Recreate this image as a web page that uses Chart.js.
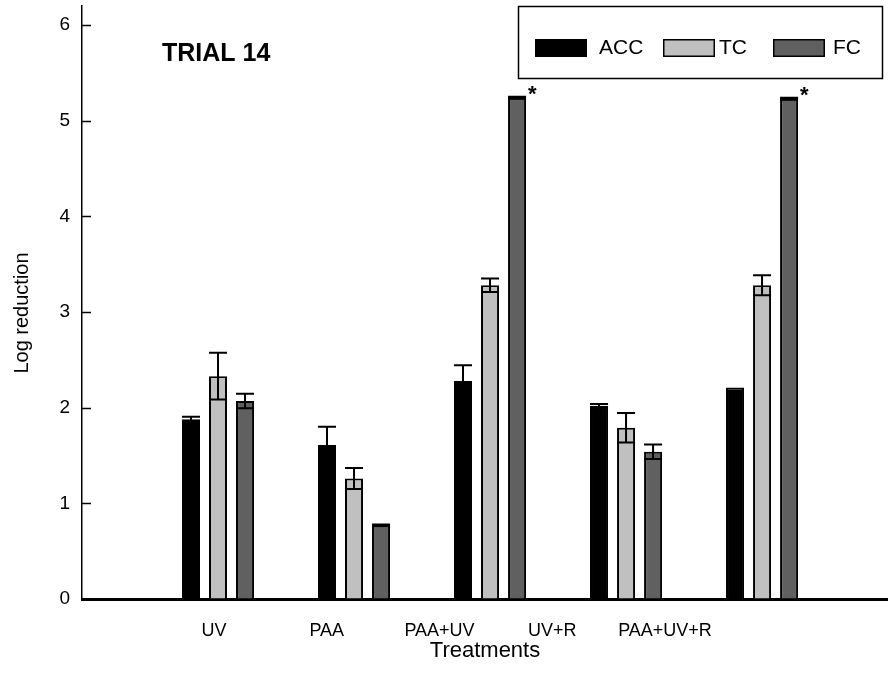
<!DOCTYPE html>
<html>
<head>
<meta charset="utf-8">
<title>Trial 14</title>
<script src="https://cdn.jsdelivr.net/npm/chart.js@4.4.1/dist/chart.umd.min.js"></script>
<style>
  html, body { margin: 0; padding: 0; background: #fff; }
</style>
</head>
<body>
<canvas id="my-chart" width="888" height="692"></canvas>
<script>
//Chart data
var treatments = ['UV', 'PAA', 'PAA+UV', 'UV+R', 'PAA+UV+R'];
var seriesNames = ['ACC', 'TC', 'FC'];

var accValues = [1.88, 1.61, 2.28, 2.02, 2.21];
var tcValues = [2.33, 1.26, 3.28, 1.79, 3.28];
var fcValues = [2.07, 0.77, 5.24, 1.54, 5.23];

//standard errors, drawn as whiskers
var accErrors = [0.025, 0.19, 0.165, 0.02, 0];
var tcErrors = [0.245, 0.11, 0.07, 0.155, 0.105];
var fcErrors = [0.075, 0.01, 0.01, 0.075, 0.01];

//FC bars flagged with an asterisk
var fcStars = [false, false, true, false, true];

var yTicks = [0, 1, 2, 3, 4, 5, 6];

var fillColors = ['#000000', '#c0c0c0', '#606060'];
var fontFamily = '"Liberation Sans", Arial, sans-serif';

//Turn a list of values into {x, y} points, one slot per treatment
function toPoints(values) {
  var points = [];
  for (var i = 0; i < values.length; i++) {
    points.push({ x: i + 1, y: values[i] });
  }
  return points;
}

//one tick per treatment slot
function slotTicks(scale) {
  scale.ticks = treatments.map(function (t, i) { return { value: i + 1 }; });
}

var allValues = [accValues, tcValues, fcValues];
var allErrors = [accErrors, tcErrors, fcErrors];

var datasets = [];
for (var i = 0; i < seriesNames.length; i++) {
  datasets.push({
    label: seriesNames[i],
    data: toPoints(allValues[i]),
    errors: allErrors[i],
    backgroundColor: fillColors[i],
    borderColor: '#000000',
    borderWidth: 2,
    categoryPercentage: 0.596,
    barPercentage: 0.667,
    xAxisID: 'x',
    yAxisID: 'y'
  });
}

//Whiskers on top of every bar
var errorBars = {
  id: 'errorBars',
  afterDatasetsDraw: function (chart) {
    var ctx = chart.ctx;
    var yScale = chart.scales.y;
    ctx.save();
    ctx.strokeStyle = '#000000';
    ctx.lineWidth = 2;
    chart.data.datasets.forEach(function (ds, d) {
      var meta = chart.getDatasetMeta(d);
      meta.data.forEach(function (bar, i) {
        var err = ds.errors[i];
        if (!err) {
          return;
        }
        var v = ds.data[i].y;
        var top = yScale.getPixelForValue(v + err);
        var low = yScale.getPixelForValue(v - err);
        var half = bar.width / 2;
        ctx.beginPath();
        ctx.moveTo(bar.x, top);
        ctx.lineTo(bar.x, low);
        ctx.moveTo(bar.x - half, top);
        ctx.lineTo(bar.x + half, top);
        ctx.moveTo(bar.x - half, low);
        ctx.lineTo(bar.x + half, low);
        ctx.stroke();
      });
    });

    //asterisks next to the FC bars
    var fcMeta = chart.getDatasetMeta(2);
    ctx.fillStyle = '#000000';
    ctx.font = 'bold 22px ' + fontFamily;
    ctx.textAlign = 'left';
    ctx.textBaseline = 'alphabetic';
    for (var i = 0; i < fcStars.length; i++) {
      if (fcStars[i]) {
        var bar = fcMeta.data[i];
        var topY = yScale.getPixelForValue(fcValues[i] + fcErrors[i]);
        ctx.fillText('*', bar.x + bar.width / 2 + 2, topY + 4);
      }
    }
    ctx.restore();
  }
};

//Inward y ticks, axis title, trial title and the boxed legend
var decorations = {
  id: 'decorations',
  afterDraw: function (chart) {
    var ctx = chart.ctx;
    var yScale = chart.scales.y;
    var left = chart.chartArea.left;
    ctx.save();

    ctx.strokeStyle = '#000000';
    ctx.lineWidth = 1.5;
    ctx.beginPath();
    yScale.ticks.forEach(function (t) {
      var y = Math.round(yScale.getPixelForValue(t.value)) + 0.5;
      ctx.moveTo(left, y);
      ctx.lineTo(left + 9, y);
    });
    ctx.stroke();

    //y axis title, sits a little below the middle of the axis
    ctx.fillStyle = '#000000';
    ctx.font = '20px ' + fontFamily;
    ctx.textAlign = 'center';
    ctx.textBaseline = 'middle';
    ctx.save();
    ctx.translate(22, 313);
    ctx.rotate(-Math.PI / 2);
    ctx.fillText('Log reduction', 0, 0);
    ctx.restore();

    ctx.font = 'bold 25px ' + fontFamily;
    ctx.textAlign = 'left';
    ctx.textBaseline = 'alphabetic';
    ctx.fillText('TRIAL 14', 162, 61);

    //legend frame
    ctx.lineWidth = 1.5;
    ctx.strokeRect(518.5, 6.5, 364, 72);

    var swatchX = [535, 663, 773];
    var textX = [599, 719, 833];
    ctx.font = '21px ' + fontFamily;
    ctx.textBaseline = 'middle';
    chart.data.datasets.forEach(function (ds, d) {
      ctx.fillStyle = ds.backgroundColor;
      ctx.fillRect(swatchX[d], 39, 52, 18);
      ctx.strokeRect(swatchX[d] + 0.75, 39.75, 50.5, 16.5);
      ctx.fillStyle = '#000000';
      ctx.fillText(ds.label, textX[d], 48);
    });
    ctx.restore();
  }
};

var myChart = new Chart(document.getElementById('my-chart').getContext('2d'), {
  type: 'bar',
  data: { datasets: datasets },
  options: {
    responsive: false,
    animation: false,
    events: [],
    layout: { autoPadding: false, padding: { top: 6, right: 0, left: 0, bottom: 0 } },
    plugins: {
      legend: { display: false },
      tooltip: { enabled: false }
    },
    scales: {
      x: {
        type: 'linear',
        display: false,
        offset: false,
        min: 0,
        max: 5.926,
        afterBuildTicks: slotTicks
      },
      xl: {
        type: 'linear',
        position: 'bottom',
        offset: false,
        z: 1,
        min: -0.1707,
        max: 6.978,
        afterBuildTicks: slotTicks,
        afterFit: function (scale) {
          scale.height = 93;
          scale.paddingLeft = 0;
          scale.paddingRight = 0;
        },
        border: { display: true, color: '#000000', width: 3 },
        grid: { display: true, offset: false, drawOnChartArea: false, drawTicks: false },
        ticks: {
          autoSkip: false,
          maxRotation: 0,
          padding: 21,
          color: '#000000',
          font: { family: fontFamily, size: 18 },
          callback: function (value) {
            return treatments[value - 1];
          }
        },
        title: {
          display: true,
          text: 'Treatments',
          color: '#000000',
          font: { family: fontFamily, size: 22 },
          padding: { top: 0, bottom: 28 }
        }
      },
      y: {
        type: 'linear',
        position: 'left',
        min: 0,
        max: 6.2,
        afterBuildTicks: function (scale) {
          scale.ticks = yTicks.map(function (v) { return { value: v }; });
        },
        afterFit: function (scale) {
          scale.width = 82;
          scale.paddingTop = 0;
          scale.paddingBottom = 0;
        },
        border: { display: true, color: '#000000', width: 1.5 },
        grid: { display: true, drawOnChartArea: false, drawTicks: false },
        ticks: {
          padding: 12,
          color: '#000000',
          font: { family: fontFamily, size: 19 }
        }
      }
    }
  },
  plugins: [errorBars, decorations]
});
</script>
</body>
</html>
